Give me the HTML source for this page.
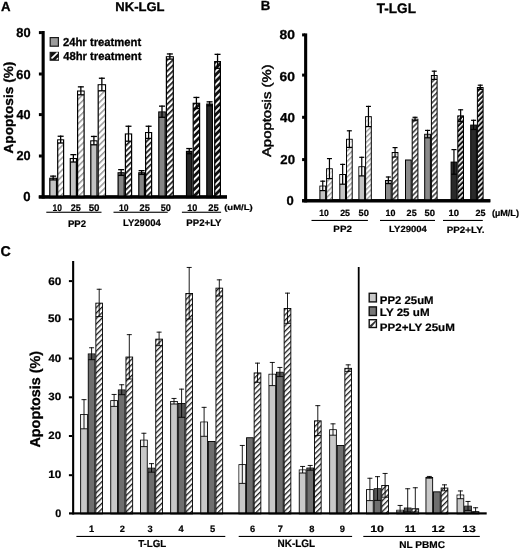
<!DOCTYPE html>
<html><head><meta charset="utf-8"><title>Apoptosis figure</title>
<style>
html,body{margin:0;padding:0;background:#fff;width:520px;height:550px;overflow:hidden;}
svg text{font-family:"Liberation Sans", sans-serif;text-rendering:geometricPrecision;}
</style></head>
<body>
<svg width="520" height="550" viewBox="0 0 520 550" style="display:block;filter:blur(0.35px) grayscale(1)">
<defs>
<pattern id="hA1" patternUnits="userSpaceOnUse" width="4.3" height="4.3" patternTransform="rotate(45)"><rect width="4.3" height="4.3" fill="#fff"/><rect width="1.5" height="4.3" fill="#9a9a9a"/></pattern>
<pattern id="hA2" patternUnits="userSpaceOnUse" width="3.9" height="3.9" patternTransform="rotate(45)"><rect width="3.9" height="3.9" fill="#fff"/><rect width="1.7" height="3.9" fill="#1a1a1a"/></pattern>
<pattern id="hA3" patternUnits="userSpaceOnUse" width="4.7" height="4.7" patternTransform="rotate(45)"><rect width="4.7" height="4.7" fill="#111"/><rect width="1.8" height="4.7" fill="#fff"/></pattern>
<pattern id="hB1" patternUnits="userSpaceOnUse" width="3.7" height="3.7" patternTransform="rotate(45)"><rect width="3.7" height="3.7" fill="#fff"/><rect width="1.4" height="3.7" fill="#9a9a9a"/></pattern>
<pattern id="hB2" patternUnits="userSpaceOnUse" width="3.7" height="3.7" patternTransform="rotate(45)"><rect width="3.7" height="3.7" fill="#fff"/><rect width="1.6" height="3.7" fill="#404040"/></pattern>
<pattern id="hB3" patternUnits="userSpaceOnUse" width="3.6" height="3.6" patternTransform="rotate(45)"><rect width="3.6" height="3.6" fill="#111"/><rect width="1.5" height="3.6" fill="#fff"/></pattern>
<pattern id="hC" patternUnits="userSpaceOnUse" width="3.85" height="3.85" patternTransform="rotate(45)"><rect width="3.85" height="3.85" fill="#fff"/><rect width="1.3" height="3.85" fill="#1a1a1a"/></pattern>
</defs><rect x="41.60" y="31.00" width="3.10" height="167.50" fill="#000"/>
<rect x="38.80" y="195.40" width="188.20" height="3.10" fill="#000"/>
<rect x="38.90" y="31.10" width="3.00" height="3.00" fill="#000"/>
<rect x="38.90" y="72.50" width="3.00" height="3.00" fill="#000"/>
<rect x="38.90" y="113.10" width="3.00" height="3.00" fill="#000"/>
<rect x="38.90" y="154.50" width="3.00" height="3.00" fill="#000"/>
<rect x="50.20" y="37.60" width="8.20" height="8.60" fill="#9c9c9c" stroke="#1a1a1a" stroke-width="1.2"/>
<rect x="50.20" y="52.40" width="8.20" height="7.80" fill="#111" stroke="#1a1a1a" stroke-width="1.2"/>
<polygon points="51.2,58.6 51.2,57.6 56.8,52.2 57.8,52.2 57.8,53.6 52.6,58.8" fill="#fff"/>
<polygon points="55.6,59.6 58.2,57.2 58.2,59.6" fill="#fff"/>
<rect x="49.80" y="178.30" width="6.70" height="19.30" fill="#c2c2c2" stroke="#000" stroke-width="1.2"/>
<rect x="50.40" y="178.90" width="5.50" height="1.00" fill="#fff" fill-opacity="1.0"/>
<line x1="49.80" y1="179.90" x2="56.50" y2="179.90" stroke="#000" stroke-width="1.3"/>
<line x1="53.15" y1="175.50" x2="53.15" y2="179.90" stroke="#000" stroke-width="1.3"/>
<line x1="50.15" y1="176.15" x2="56.15" y2="176.15" stroke="#000" stroke-width="1.3"/>
<rect x="57.70" y="139.90" width="5.90" height="57.70" fill="url(#hA1)" stroke="#000" stroke-width="1.2"/>
<rect x="58.30" y="140.50" width="4.70" height="2.50" fill="#fff" fill-opacity="1.0"/>
<line x1="57.70" y1="143.00" x2="63.60" y2="143.00" stroke="#000" stroke-width="1.3"/>
<line x1="60.65" y1="135.60" x2="60.65" y2="143.00" stroke="#000" stroke-width="1.3"/>
<line x1="57.65" y1="136.25" x2="63.65" y2="136.25" stroke="#000" stroke-width="1.3"/>
<rect x="70.30" y="158.60" width="6.10" height="39.00" fill="#c2c2c2" stroke="#000" stroke-width="1.2"/>
<rect x="70.90" y="159.20" width="4.90" height="2.80" fill="#fff" fill-opacity="1.0"/>
<line x1="70.30" y1="162.00" x2="76.40" y2="162.00" stroke="#000" stroke-width="1.3"/>
<line x1="73.35" y1="154.00" x2="73.35" y2="162.00" stroke="#000" stroke-width="1.3"/>
<line x1="70.35" y1="154.65" x2="76.35" y2="154.65" stroke="#000" stroke-width="1.3"/>
<rect x="77.60" y="91.10" width="6.50" height="106.50" fill="url(#hA1)" stroke="#000" stroke-width="1.2"/>
<rect x="78.20" y="91.70" width="5.30" height="3.10" fill="#fff" fill-opacity="1.0"/>
<line x1="77.60" y1="94.80" x2="84.10" y2="94.80" stroke="#000" stroke-width="1.3"/>
<line x1="80.85" y1="86.20" x2="80.85" y2="94.80" stroke="#000" stroke-width="1.3"/>
<line x1="77.85" y1="86.85" x2="83.85" y2="86.85" stroke="#000" stroke-width="1.3"/>
<rect x="90.80" y="140.90" width="6.20" height="56.70" fill="#c2c2c2" stroke="#000" stroke-width="1.2"/>
<rect x="91.40" y="141.50" width="5.00" height="3.30" fill="#fff" fill-opacity="1.0"/>
<line x1="90.80" y1="144.80" x2="97.00" y2="144.80" stroke="#000" stroke-width="1.3"/>
<line x1="93.90" y1="135.80" x2="93.90" y2="144.80" stroke="#000" stroke-width="1.3"/>
<line x1="90.90" y1="136.45" x2="96.90" y2="136.45" stroke="#000" stroke-width="1.3"/>
<rect x="98.20" y="84.80" width="7.30" height="112.80" fill="url(#hA1)" stroke="#000" stroke-width="1.2"/>
<rect x="98.80" y="85.40" width="6.10" height="5.40" fill="#fff" fill-opacity="1.0"/>
<line x1="98.20" y1="90.80" x2="105.50" y2="90.80" stroke="#000" stroke-width="1.3"/>
<line x1="101.85" y1="77.60" x2="101.85" y2="90.80" stroke="#000" stroke-width="1.3"/>
<line x1="98.85" y1="78.25" x2="104.85" y2="78.25" stroke="#000" stroke-width="1.3"/>
<rect x="118.10" y="172.80" width="6.10" height="24.80" fill="#858585" stroke="#000" stroke-width="1.2"/>
<rect x="118.70" y="173.40" width="4.90" height="2.00" fill="#555" fill-opacity="1.0"/>
<line x1="118.10" y1="175.40" x2="124.20" y2="175.40" stroke="#000" stroke-width="1.3"/>
<line x1="121.15" y1="169.00" x2="121.15" y2="175.40" stroke="#000" stroke-width="1.3"/>
<line x1="118.15" y1="169.65" x2="124.15" y2="169.65" stroke="#000" stroke-width="1.3"/>
<rect x="125.40" y="134.00" width="6.20" height="63.60" fill="url(#hA2)" stroke="#000" stroke-width="1.2"/>
<rect x="126.00" y="134.60" width="5.00" height="6.60" fill="#fff" fill-opacity="1.0"/>
<line x1="125.40" y1="141.20" x2="131.60" y2="141.20" stroke="#000" stroke-width="1.3"/>
<line x1="128.50" y1="125.60" x2="128.50" y2="141.20" stroke="#000" stroke-width="1.3"/>
<line x1="125.50" y1="126.25" x2="131.50" y2="126.25" stroke="#000" stroke-width="1.3"/>
<rect x="138.80" y="172.80" width="5.60" height="24.80" fill="#858585" stroke="#000" stroke-width="1.2"/>
<rect x="139.40" y="173.40" width="4.40" height="1.00" fill="#555" fill-opacity="1.0"/>
<line x1="138.80" y1="174.40" x2="144.40" y2="174.40" stroke="#000" stroke-width="1.3"/>
<line x1="141.60" y1="170.00" x2="141.60" y2="174.40" stroke="#000" stroke-width="1.3"/>
<line x1="138.60" y1="170.65" x2="144.60" y2="170.65" stroke="#000" stroke-width="1.3"/>
<rect x="145.60" y="132.60" width="6.00" height="65.00" fill="url(#hA2)" stroke="#000" stroke-width="1.2"/>
<rect x="146.20" y="133.20" width="4.80" height="5.20" fill="#fff" fill-opacity="1.0"/>
<line x1="145.60" y1="138.40" x2="151.60" y2="138.40" stroke="#000" stroke-width="1.3"/>
<line x1="148.60" y1="125.60" x2="148.60" y2="138.40" stroke="#000" stroke-width="1.3"/>
<line x1="145.60" y1="126.25" x2="151.60" y2="126.25" stroke="#000" stroke-width="1.3"/>
<rect x="158.80" y="112.00" width="6.40" height="85.60" fill="#858585" stroke="#000" stroke-width="1.2"/>
<rect x="159.40" y="112.60" width="5.20" height="4.70" fill="#555" fill-opacity="1.0"/>
<line x1="158.80" y1="117.30" x2="165.20" y2="117.30" stroke="#000" stroke-width="1.3"/>
<line x1="162.00" y1="105.50" x2="162.00" y2="117.30" stroke="#000" stroke-width="1.3"/>
<line x1="159.00" y1="106.15" x2="165.00" y2="106.15" stroke="#000" stroke-width="1.3"/>
<rect x="166.40" y="56.80" width="6.90" height="140.80" fill="url(#hA2)" stroke="#000" stroke-width="1.2"/>
<rect x="167.00" y="57.40" width="5.70" height="1.70" fill="#fff" fill-opacity="1.0"/>
<line x1="166.40" y1="59.10" x2="173.30" y2="59.10" stroke="#000" stroke-width="1.3"/>
<line x1="169.85" y1="53.30" x2="169.85" y2="59.10" stroke="#000" stroke-width="1.3"/>
<line x1="166.85" y1="53.95" x2="172.85" y2="53.95" stroke="#000" stroke-width="1.3"/>
<rect x="186.50" y="151.40" width="5.50" height="46.20" fill="#262626" stroke="#000" stroke-width="1.2"/>
<line x1="186.50" y1="153.70" x2="192.00" y2="153.70" stroke="#000" stroke-width="1.3"/>
<line x1="189.25" y1="147.90" x2="189.25" y2="153.70" stroke="#000" stroke-width="1.3"/>
<line x1="186.25" y1="148.55" x2="192.25" y2="148.55" stroke="#000" stroke-width="1.3"/>
<rect x="193.20" y="103.30" width="6.40" height="94.30" fill="url(#hA3)" stroke="#000" stroke-width="1.2"/>
<line x1="193.20" y1="108.60" x2="199.60" y2="108.60" stroke="#000" stroke-width="1.3"/>
<line x1="196.40" y1="96.80" x2="196.40" y2="108.60" stroke="#000" stroke-width="1.3"/>
<line x1="193.40" y1="97.45" x2="199.40" y2="97.45" stroke="#000" stroke-width="1.3"/>
<rect x="206.80" y="104.10" width="5.60" height="93.50" fill="#262626" stroke="#000" stroke-width="1.2"/>
<line x1="206.80" y1="105.80" x2="212.40" y2="105.80" stroke="#000" stroke-width="1.3"/>
<line x1="209.60" y1="101.20" x2="209.60" y2="105.80" stroke="#000" stroke-width="1.3"/>
<line x1="206.60" y1="101.85" x2="212.60" y2="101.85" stroke="#000" stroke-width="1.3"/>
<rect x="214.70" y="61.60" width="5.70" height="136.00" fill="url(#hA3)" stroke="#000" stroke-width="1.2"/>
<line x1="214.70" y1="68.30" x2="220.40" y2="68.30" stroke="#000" stroke-width="1.3"/>
<line x1="217.55" y1="53.70" x2="217.55" y2="68.30" stroke="#000" stroke-width="1.3"/>
<line x1="214.55" y1="54.35" x2="220.55" y2="54.35" stroke="#000" stroke-width="1.3"/>
<rect x="38.80" y="195.40" width="188.20" height="3.10" fill="#000"/>
<rect x="46.30" y="211.70" width="55.20" height="1.10" fill="#000"/>
<rect x="113.50" y="211.70" width="54.20" height="1.10" fill="#000"/>
<rect x="181.90" y="211.70" width="39.20" height="1.10" fill="#000"/>
<rect x="304.10" y="33.40" width="3.10" height="169.00" fill="#000"/>
<rect x="302.10" y="199.20" width="188.20" height="3.10" fill="#000"/>
<rect x="302.10" y="33.40" width="3.00" height="3.00" fill="#000"/>
<rect x="302.10" y="73.60" width="3.00" height="3.00" fill="#000"/>
<rect x="302.10" y="115.80" width="3.00" height="3.00" fill="#000"/>
<rect x="302.10" y="158.10" width="3.00" height="3.00" fill="#000"/>
<rect x="319.90" y="186.10" width="5.70" height="15.10" fill="#c4c4c4" stroke="#000" stroke-width="1.0"/>
<rect x="320.40" y="186.60" width="4.70" height="4.00" fill="#f6f6f6" fill-opacity="1.0"/>
<line x1="319.90" y1="190.60" x2="325.60" y2="190.60" stroke="#000" stroke-width="1.2"/>
<line x1="322.75" y1="180.60" x2="322.75" y2="190.60" stroke="#000" stroke-width="1.2"/>
<line x1="320.25" y1="181.20" x2="325.25" y2="181.20" stroke="#000" stroke-width="1.2"/>
<rect x="326.60" y="168.80" width="5.70" height="32.40" fill="url(#hB1)" stroke="#000" stroke-width="1.0"/>
<rect x="327.10" y="169.30" width="4.70" height="9.30" fill="#fff" fill-opacity="0.7"/>
<line x1="326.60" y1="178.60" x2="332.30" y2="178.60" stroke="#000" stroke-width="1.2"/>
<line x1="329.45" y1="158.00" x2="329.45" y2="178.60" stroke="#000" stroke-width="1.2"/>
<line x1="326.95" y1="158.60" x2="331.95" y2="158.60" stroke="#000" stroke-width="1.2"/>
<rect x="339.80" y="174.50" width="5.70" height="26.70" fill="#c4c4c4" stroke="#000" stroke-width="1.0"/>
<rect x="340.30" y="175.00" width="4.70" height="9.20" fill="#f6f6f6" fill-opacity="1.0"/>
<line x1="339.80" y1="184.20" x2="345.50" y2="184.20" stroke="#000" stroke-width="1.2"/>
<line x1="342.65" y1="163.80" x2="342.65" y2="184.20" stroke="#000" stroke-width="1.2"/>
<line x1="340.15" y1="164.40" x2="345.15" y2="164.40" stroke="#000" stroke-width="1.2"/>
<rect x="346.50" y="139.30" width="5.70" height="61.90" fill="url(#hB1)" stroke="#000" stroke-width="1.0"/>
<rect x="347.00" y="139.80" width="4.70" height="7.60" fill="#fff" fill-opacity="0.7"/>
<line x1="346.50" y1="147.40" x2="352.20" y2="147.40" stroke="#000" stroke-width="1.2"/>
<line x1="349.35" y1="130.20" x2="349.35" y2="147.40" stroke="#000" stroke-width="1.2"/>
<line x1="346.85" y1="130.80" x2="351.85" y2="130.80" stroke="#000" stroke-width="1.2"/>
<rect x="358.90" y="166.80" width="5.70" height="34.40" fill="#c4c4c4" stroke="#000" stroke-width="1.0"/>
<rect x="359.40" y="167.30" width="4.70" height="8.60" fill="#f6f6f6" fill-opacity="1.0"/>
<line x1="358.90" y1="175.90" x2="364.60" y2="175.90" stroke="#000" stroke-width="1.2"/>
<line x1="361.75" y1="156.70" x2="361.75" y2="175.90" stroke="#000" stroke-width="1.2"/>
<line x1="359.25" y1="157.30" x2="364.25" y2="157.30" stroke="#000" stroke-width="1.2"/>
<rect x="365.60" y="116.70" width="5.70" height="84.50" fill="url(#hB1)" stroke="#000" stroke-width="1.0"/>
<rect x="366.10" y="117.20" width="4.70" height="9.40" fill="#fff" fill-opacity="0.7"/>
<line x1="365.60" y1="126.60" x2="371.30" y2="126.60" stroke="#000" stroke-width="1.2"/>
<line x1="368.45" y1="105.80" x2="368.45" y2="126.60" stroke="#000" stroke-width="1.2"/>
<line x1="365.95" y1="106.40" x2="370.95" y2="106.40" stroke="#000" stroke-width="1.2"/>
<rect x="385.50" y="180.50" width="5.70" height="20.70" fill="#8a8a8a" stroke="#000" stroke-width="1.0"/>
<rect x="386.00" y="181.00" width="4.70" height="2.60" fill="#aaa" fill-opacity="1.0"/>
<line x1="385.50" y1="183.60" x2="391.20" y2="183.60" stroke="#000" stroke-width="1.2"/>
<line x1="388.35" y1="176.40" x2="388.35" y2="183.60" stroke="#000" stroke-width="1.2"/>
<line x1="385.85" y1="177.00" x2="390.85" y2="177.00" stroke="#000" stroke-width="1.2"/>
<rect x="392.20" y="152.50" width="5.70" height="48.70" fill="url(#hB2)" stroke="#000" stroke-width="1.0"/>
<rect x="392.70" y="153.00" width="4.70" height="4.00" fill="#fff" fill-opacity="0.7"/>
<line x1="392.20" y1="157.00" x2="397.90" y2="157.00" stroke="#000" stroke-width="1.2"/>
<line x1="395.05" y1="147.00" x2="395.05" y2="157.00" stroke="#000" stroke-width="1.2"/>
<line x1="392.55" y1="147.60" x2="397.55" y2="147.60" stroke="#000" stroke-width="1.2"/>
<rect x="405.50" y="160.00" width="5.70" height="41.20" fill="#8a8a8a" stroke="#000" stroke-width="1.0"/>
<rect x="412.20" y="119.20" width="5.70" height="82.00" fill="url(#hB2)" stroke="#000" stroke-width="1.0"/>
<rect x="412.70" y="119.70" width="4.70" height="1.00" fill="#fff" fill-opacity="0.7"/>
<line x1="412.20" y1="120.70" x2="417.90" y2="120.70" stroke="#000" stroke-width="1.2"/>
<line x1="415.05" y1="116.70" x2="415.05" y2="120.70" stroke="#000" stroke-width="1.2"/>
<line x1="412.55" y1="117.30" x2="417.55" y2="117.30" stroke="#000" stroke-width="1.2"/>
<rect x="424.70" y="134.30" width="5.70" height="66.90" fill="#8a8a8a" stroke="#000" stroke-width="1.0"/>
<rect x="425.20" y="134.80" width="4.70" height="3.00" fill="#aaa" fill-opacity="1.0"/>
<line x1="424.70" y1="137.80" x2="430.40" y2="137.80" stroke="#000" stroke-width="1.2"/>
<line x1="427.55" y1="129.80" x2="427.55" y2="137.80" stroke="#000" stroke-width="1.2"/>
<line x1="425.05" y1="130.40" x2="430.05" y2="130.40" stroke="#000" stroke-width="1.2"/>
<rect x="431.40" y="75.50" width="5.70" height="125.70" fill="url(#hB2)" stroke="#000" stroke-width="1.0"/>
<rect x="431.90" y="76.00" width="4.70" height="3.40" fill="#fff" fill-opacity="0.7"/>
<line x1="431.40" y1="79.40" x2="437.10" y2="79.40" stroke="#000" stroke-width="1.2"/>
<line x1="434.25" y1="70.60" x2="434.25" y2="79.40" stroke="#000" stroke-width="1.2"/>
<line x1="431.75" y1="71.20" x2="436.75" y2="71.20" stroke="#000" stroke-width="1.2"/>
<rect x="451.10" y="162.10" width="5.70" height="39.10" fill="#2a2a2a" stroke="#000" stroke-width="1.0"/>
<line x1="451.10" y1="174.20" x2="456.80" y2="174.20" stroke="#000" stroke-width="1.2"/>
<line x1="453.95" y1="149.00" x2="453.95" y2="174.20" stroke="#000" stroke-width="1.2"/>
<line x1="451.45" y1="149.60" x2="456.45" y2="149.60" stroke="#000" stroke-width="1.2"/>
<rect x="457.80" y="115.90" width="5.70" height="85.30" fill="url(#hB3)" stroke="#000" stroke-width="1.0"/>
<line x1="457.80" y1="121.60" x2="463.50" y2="121.60" stroke="#000" stroke-width="1.2"/>
<line x1="460.65" y1="109.20" x2="460.65" y2="121.60" stroke="#000" stroke-width="1.2"/>
<line x1="458.15" y1="109.80" x2="463.15" y2="109.80" stroke="#000" stroke-width="1.2"/>
<rect x="470.70" y="125.10" width="5.70" height="76.10" fill="#2a2a2a" stroke="#000" stroke-width="1.0"/>
<line x1="470.70" y1="129.50" x2="476.40" y2="129.50" stroke="#000" stroke-width="1.2"/>
<line x1="473.55" y1="119.70" x2="473.55" y2="129.50" stroke="#000" stroke-width="1.2"/>
<line x1="471.05" y1="120.30" x2="476.05" y2="120.30" stroke="#000" stroke-width="1.2"/>
<rect x="477.40" y="87.50" width="5.70" height="113.70" fill="url(#hB3)" stroke="#000" stroke-width="1.0"/>
<line x1="477.40" y1="89.40" x2="483.10" y2="89.40" stroke="#000" stroke-width="1.2"/>
<line x1="480.25" y1="84.60" x2="480.25" y2="89.40" stroke="#000" stroke-width="1.2"/>
<line x1="477.75" y1="85.20" x2="482.75" y2="85.20" stroke="#000" stroke-width="1.2"/>
<rect x="302.10" y="199.20" width="188.20" height="3.10" fill="#000"/>
<rect x="311.50" y="219.90" width="56.40" height="1.10" fill="#000"/>
<rect x="380.00" y="219.90" width="55.00" height="1.10" fill="#000"/>
<rect x="443.00" y="219.90" width="39.80" height="1.10" fill="#000"/>
<rect x="72.10" y="261.00" width="2.10" height="253.50" fill="#000"/>
<rect x="68.90" y="280.10" width="3.30" height="2.00" fill="#000"/>
<rect x="68.90" y="318.30" width="3.30" height="2.00" fill="#000"/>
<rect x="68.90" y="357.50" width="3.30" height="2.00" fill="#000"/>
<rect x="68.90" y="396.30" width="3.30" height="2.00" fill="#000"/>
<rect x="68.90" y="435.00" width="3.30" height="2.00" fill="#000"/>
<rect x="68.90" y="474.20" width="3.30" height="2.00" fill="#000"/>
<rect x="357.80" y="267.00" width="1.80" height="247.00" fill="#000"/>
<rect x="369.20" y="293.30" width="7.20" height="8.60" fill="#c8c8c8" stroke="#111" stroke-width="1.4"/>
<rect x="369.20" y="306.90" width="7.20" height="8.60" fill="#777" stroke="#111" stroke-width="1.4"/>
<rect x="369.20" y="319.70" width="7.20" height="7.80" fill="#fff" stroke="#111" stroke-width="1.4"/>
<polygon points="370,326.6 370,325.2 375.4,320.4 376.3,320.4 376.3,321.6 371.2,327.4" fill="#333"/>
<rect x="80.65" y="414.45" width="6.70" height="99.40" fill="#c8c8c8" stroke="#000" stroke-width="0.9"/>
<rect x="81.10" y="414.90" width="5.80" height="13.90" fill="#f4f4f4" fill-opacity="1.0"/>
<line x1="80.65" y1="428.80" x2="87.35" y2="428.80" stroke="#000" stroke-width="0.9"/>
<line x1="84.00" y1="399.20" x2="84.00" y2="428.80" stroke="#000" stroke-width="0.9"/>
<line x1="81.50" y1="399.65" x2="86.50" y2="399.65" stroke="#000" stroke-width="0.9"/>
<rect x="88.25" y="353.95" width="6.70" height="159.90" fill="#6e6e6e" stroke="#000" stroke-width="0.9"/>
<rect x="88.70" y="354.40" width="5.80" height="5.30" fill="#555" fill-opacity="1.0"/>
<line x1="88.25" y1="359.70" x2="94.95" y2="359.70" stroke="#000" stroke-width="0.9"/>
<line x1="91.60" y1="347.30" x2="91.60" y2="359.70" stroke="#000" stroke-width="0.9"/>
<line x1="89.10" y1="347.75" x2="94.10" y2="347.75" stroke="#000" stroke-width="0.9"/>
<rect x="95.85" y="303.15" width="6.70" height="210.70" fill="url(#hC)" stroke="#000" stroke-width="0.9"/>
<line x1="95.85" y1="316.60" x2="102.55" y2="316.60" stroke="#000" stroke-width="0.9"/>
<line x1="99.20" y1="288.80" x2="99.20" y2="316.60" stroke="#000" stroke-width="0.9"/>
<line x1="96.70" y1="289.25" x2="101.70" y2="289.25" stroke="#000" stroke-width="0.9"/>
<rect x="110.75" y="400.65" width="6.70" height="113.20" fill="#c8c8c8" stroke="#000" stroke-width="0.9"/>
<rect x="111.20" y="401.10" width="5.80" height="5.30" fill="#f4f4f4" fill-opacity="1.0"/>
<line x1="110.75" y1="406.40" x2="117.45" y2="406.40" stroke="#000" stroke-width="0.9"/>
<line x1="114.10" y1="394.00" x2="114.10" y2="406.40" stroke="#000" stroke-width="0.9"/>
<line x1="111.60" y1="394.45" x2="116.60" y2="394.45" stroke="#000" stroke-width="0.9"/>
<rect x="118.35" y="389.95" width="6.70" height="123.90" fill="#6e6e6e" stroke="#000" stroke-width="0.9"/>
<rect x="118.80" y="390.40" width="5.80" height="4.30" fill="#555" fill-opacity="1.0"/>
<line x1="118.35" y1="394.70" x2="125.05" y2="394.70" stroke="#000" stroke-width="0.9"/>
<line x1="121.70" y1="384.30" x2="121.70" y2="394.70" stroke="#000" stroke-width="0.9"/>
<line x1="119.20" y1="384.75" x2="124.20" y2="384.75" stroke="#000" stroke-width="0.9"/>
<rect x="125.95" y="357.05" width="6.70" height="156.80" fill="url(#hC)" stroke="#000" stroke-width="0.9"/>
<line x1="125.95" y1="379.00" x2="132.65" y2="379.00" stroke="#000" stroke-width="0.9"/>
<line x1="129.30" y1="334.20" x2="129.30" y2="379.00" stroke="#000" stroke-width="0.9"/>
<line x1="126.80" y1="334.65" x2="131.80" y2="334.65" stroke="#000" stroke-width="0.9"/>
<rect x="140.55" y="440.15" width="6.70" height="73.70" fill="#c8c8c8" stroke="#000" stroke-width="0.9"/>
<rect x="141.00" y="440.60" width="5.80" height="6.00" fill="#f4f4f4" fill-opacity="1.0"/>
<line x1="140.55" y1="446.60" x2="147.25" y2="446.60" stroke="#000" stroke-width="0.9"/>
<line x1="143.90" y1="432.80" x2="143.90" y2="446.60" stroke="#000" stroke-width="0.9"/>
<line x1="141.40" y1="433.25" x2="146.40" y2="433.25" stroke="#000" stroke-width="0.9"/>
<rect x="148.15" y="468.15" width="6.70" height="45.70" fill="#6e6e6e" stroke="#000" stroke-width="0.9"/>
<rect x="148.60" y="468.60" width="5.80" height="3.60" fill="#555" fill-opacity="1.0"/>
<line x1="148.15" y1="472.20" x2="154.85" y2="472.20" stroke="#000" stroke-width="0.9"/>
<line x1="151.50" y1="463.20" x2="151.50" y2="472.20" stroke="#000" stroke-width="0.9"/>
<line x1="149.00" y1="463.65" x2="154.00" y2="463.65" stroke="#000" stroke-width="0.9"/>
<rect x="155.75" y="339.15" width="6.70" height="174.70" fill="url(#hC)" stroke="#000" stroke-width="0.9"/>
<line x1="155.75" y1="345.70" x2="162.45" y2="345.70" stroke="#000" stroke-width="0.9"/>
<line x1="159.10" y1="331.70" x2="159.10" y2="345.70" stroke="#000" stroke-width="0.9"/>
<line x1="156.60" y1="332.15" x2="161.60" y2="332.15" stroke="#000" stroke-width="0.9"/>
<rect x="170.65" y="401.45" width="6.70" height="112.40" fill="#c8c8c8" stroke="#000" stroke-width="0.9"/>
<rect x="171.10" y="401.90" width="5.80" height="2.10" fill="#f4f4f4" fill-opacity="1.0"/>
<line x1="170.65" y1="404.00" x2="177.35" y2="404.00" stroke="#000" stroke-width="0.9"/>
<line x1="174.00" y1="398.00" x2="174.00" y2="404.00" stroke="#000" stroke-width="0.9"/>
<line x1="171.50" y1="398.45" x2="176.50" y2="398.45" stroke="#000" stroke-width="0.9"/>
<rect x="178.25" y="403.45" width="6.70" height="110.40" fill="#6e6e6e" stroke="#000" stroke-width="0.9"/>
<rect x="178.70" y="403.90" width="5.80" height="13.40" fill="#555" fill-opacity="1.0"/>
<line x1="178.25" y1="417.30" x2="184.95" y2="417.30" stroke="#000" stroke-width="0.9"/>
<line x1="181.60" y1="388.70" x2="181.60" y2="417.30" stroke="#000" stroke-width="0.9"/>
<line x1="179.10" y1="389.15" x2="184.10" y2="389.15" stroke="#000" stroke-width="0.9"/>
<rect x="185.85" y="293.45" width="6.70" height="220.40" fill="url(#hC)" stroke="#000" stroke-width="0.9"/>
<line x1="185.85" y1="319.00" x2="192.55" y2="319.00" stroke="#000" stroke-width="0.9"/>
<line x1="189.20" y1="267.00" x2="189.20" y2="319.00" stroke="#000" stroke-width="0.9"/>
<line x1="186.70" y1="267.45" x2="191.70" y2="267.45" stroke="#000" stroke-width="0.9"/>
<rect x="200.75" y="422.05" width="6.70" height="91.80" fill="#c8c8c8" stroke="#000" stroke-width="0.9"/>
<rect x="201.20" y="422.50" width="5.80" height="13.80" fill="#f4f4f4" fill-opacity="1.0"/>
<line x1="200.75" y1="436.30" x2="207.45" y2="436.30" stroke="#000" stroke-width="0.9"/>
<line x1="204.10" y1="406.90" x2="204.10" y2="436.30" stroke="#000" stroke-width="0.9"/>
<line x1="201.60" y1="407.35" x2="206.60" y2="407.35" stroke="#000" stroke-width="0.9"/>
<rect x="208.35" y="441.45" width="6.70" height="72.40" fill="#6e6e6e" stroke="#000" stroke-width="0.9"/>
<rect x="215.95" y="288.15" width="6.70" height="225.70" fill="url(#hC)" stroke="#000" stroke-width="0.9"/>
<line x1="215.95" y1="296.00" x2="222.65" y2="296.00" stroke="#000" stroke-width="0.9"/>
<line x1="219.30" y1="279.40" x2="219.30" y2="296.00" stroke="#000" stroke-width="0.9"/>
<line x1="216.80" y1="279.85" x2="221.80" y2="279.85" stroke="#000" stroke-width="0.9"/>
<rect x="238.95" y="464.65" width="6.70" height="49.20" fill="#c8c8c8" stroke="#000" stroke-width="0.9"/>
<rect x="239.40" y="465.10" width="5.80" height="18.30" fill="#f4f4f4" fill-opacity="1.0"/>
<line x1="238.95" y1="483.40" x2="245.65" y2="483.40" stroke="#000" stroke-width="0.9"/>
<line x1="242.30" y1="445.00" x2="242.30" y2="483.40" stroke="#000" stroke-width="0.9"/>
<line x1="239.80" y1="445.45" x2="244.80" y2="445.45" stroke="#000" stroke-width="0.9"/>
<rect x="246.55" y="437.75" width="6.70" height="76.10" fill="#6e6e6e" stroke="#000" stroke-width="0.9"/>
<rect x="254.15" y="372.95" width="6.70" height="140.90" fill="url(#hC)" stroke="#000" stroke-width="0.9"/>
<line x1="254.15" y1="382.30" x2="260.85" y2="382.30" stroke="#000" stroke-width="0.9"/>
<line x1="257.50" y1="362.70" x2="257.50" y2="382.30" stroke="#000" stroke-width="0.9"/>
<line x1="255.00" y1="363.15" x2="260.00" y2="363.15" stroke="#000" stroke-width="0.9"/>
<rect x="268.95" y="374.25" width="6.70" height="139.60" fill="#c8c8c8" stroke="#000" stroke-width="0.9"/>
<rect x="269.40" y="374.70" width="5.80" height="10.90" fill="#f4f4f4" fill-opacity="1.0"/>
<line x1="268.95" y1="385.60" x2="275.65" y2="385.60" stroke="#000" stroke-width="0.9"/>
<line x1="272.30" y1="362.00" x2="272.30" y2="385.60" stroke="#000" stroke-width="0.9"/>
<line x1="269.80" y1="362.45" x2="274.80" y2="362.45" stroke="#000" stroke-width="0.9"/>
<rect x="276.55" y="372.25" width="6.70" height="141.60" fill="#6e6e6e" stroke="#000" stroke-width="0.9"/>
<rect x="277.00" y="372.70" width="5.80" height="3.90" fill="#555" fill-opacity="1.0"/>
<line x1="276.55" y1="376.60" x2="283.25" y2="376.60" stroke="#000" stroke-width="0.9"/>
<line x1="279.90" y1="367.00" x2="279.90" y2="376.60" stroke="#000" stroke-width="0.9"/>
<line x1="277.40" y1="367.45" x2="282.40" y2="367.45" stroke="#000" stroke-width="0.9"/>
<rect x="284.15" y="308.45" width="6.70" height="205.40" fill="url(#hC)" stroke="#000" stroke-width="0.9"/>
<line x1="284.15" y1="323.30" x2="290.85" y2="323.30" stroke="#000" stroke-width="0.9"/>
<line x1="287.50" y1="292.70" x2="287.50" y2="323.30" stroke="#000" stroke-width="0.9"/>
<line x1="285.00" y1="293.15" x2="290.00" y2="293.15" stroke="#000" stroke-width="0.9"/>
<rect x="299.25" y="469.95" width="6.70" height="43.90" fill="#c8c8c8" stroke="#000" stroke-width="0.9"/>
<rect x="299.70" y="470.40" width="5.80" height="2.60" fill="#f4f4f4" fill-opacity="1.0"/>
<line x1="299.25" y1="473.00" x2="305.95" y2="473.00" stroke="#000" stroke-width="0.9"/>
<line x1="302.60" y1="466.00" x2="302.60" y2="473.00" stroke="#000" stroke-width="0.9"/>
<line x1="300.10" y1="466.45" x2="305.10" y2="466.45" stroke="#000" stroke-width="0.9"/>
<rect x="306.85" y="468.05" width="6.70" height="45.80" fill="#6e6e6e" stroke="#000" stroke-width="0.9"/>
<rect x="307.30" y="468.50" width="5.80" height="1.70" fill="#555" fill-opacity="1.0"/>
<line x1="306.85" y1="470.20" x2="313.55" y2="470.20" stroke="#000" stroke-width="0.9"/>
<line x1="310.20" y1="465.00" x2="310.20" y2="470.20" stroke="#000" stroke-width="0.9"/>
<line x1="307.70" y1="465.45" x2="312.70" y2="465.45" stroke="#000" stroke-width="0.9"/>
<rect x="314.45" y="420.85" width="6.70" height="93.00" fill="url(#hC)" stroke="#000" stroke-width="0.9"/>
<line x1="314.45" y1="435.60" x2="321.15" y2="435.60" stroke="#000" stroke-width="0.9"/>
<line x1="317.80" y1="405.20" x2="317.80" y2="435.60" stroke="#000" stroke-width="0.9"/>
<line x1="315.30" y1="405.65" x2="320.30" y2="405.65" stroke="#000" stroke-width="0.9"/>
<rect x="329.65" y="429.75" width="6.70" height="84.10" fill="#c8c8c8" stroke="#000" stroke-width="0.9"/>
<rect x="330.10" y="430.20" width="5.80" height="5.00" fill="#f4f4f4" fill-opacity="1.0"/>
<line x1="329.65" y1="435.20" x2="336.35" y2="435.20" stroke="#000" stroke-width="0.9"/>
<line x1="333.00" y1="423.40" x2="333.00" y2="435.20" stroke="#000" stroke-width="0.9"/>
<line x1="330.50" y1="423.85" x2="335.50" y2="423.85" stroke="#000" stroke-width="0.9"/>
<rect x="337.25" y="445.45" width="6.70" height="68.40" fill="#6e6e6e" stroke="#000" stroke-width="0.9"/>
<rect x="344.85" y="368.35" width="6.70" height="145.50" fill="url(#hC)" stroke="#000" stroke-width="0.9"/>
<line x1="344.85" y1="371.40" x2="351.55" y2="371.40" stroke="#000" stroke-width="0.9"/>
<line x1="348.20" y1="364.40" x2="348.20" y2="371.40" stroke="#000" stroke-width="0.9"/>
<line x1="345.70" y1="364.85" x2="350.70" y2="364.85" stroke="#000" stroke-width="0.9"/>
<rect x="366.55" y="489.65" width="6.70" height="24.20" fill="#c8c8c8" stroke="#000" stroke-width="0.9"/>
<rect x="367.00" y="490.10" width="5.80" height="10.50" fill="#f4f4f4" fill-opacity="1.0"/>
<line x1="366.55" y1="500.60" x2="373.25" y2="500.60" stroke="#000" stroke-width="0.9"/>
<line x1="369.90" y1="477.80" x2="369.90" y2="500.60" stroke="#000" stroke-width="0.9"/>
<line x1="367.40" y1="478.25" x2="372.40" y2="478.25" stroke="#000" stroke-width="0.9"/>
<rect x="374.15" y="488.75" width="6.70" height="25.10" fill="#6e6e6e" stroke="#000" stroke-width="0.9"/>
<rect x="374.60" y="489.20" width="5.80" height="11.20" fill="#555" fill-opacity="1.0"/>
<line x1="374.15" y1="500.40" x2="380.85" y2="500.40" stroke="#000" stroke-width="0.9"/>
<line x1="377.50" y1="476.20" x2="377.50" y2="500.40" stroke="#000" stroke-width="0.9"/>
<line x1="375.00" y1="476.65" x2="380.00" y2="476.65" stroke="#000" stroke-width="0.9"/>
<rect x="381.75" y="485.55" width="6.70" height="28.30" fill="url(#hC)" stroke="#000" stroke-width="0.9"/>
<line x1="381.75" y1="497.20" x2="388.45" y2="497.20" stroke="#000" stroke-width="0.9"/>
<line x1="385.10" y1="473.00" x2="385.10" y2="497.20" stroke="#000" stroke-width="0.9"/>
<line x1="382.60" y1="473.45" x2="387.60" y2="473.45" stroke="#000" stroke-width="0.9"/>
<rect x="396.75" y="510.25" width="6.70" height="3.60" fill="#c8c8c8" stroke="#000" stroke-width="0.9"/>
<rect x="397.20" y="510.70" width="5.80" height="1.20" fill="#f4f4f4" fill-opacity="1.0"/>
<line x1="396.75" y1="511.90" x2="403.45" y2="511.90" stroke="#000" stroke-width="0.9"/>
<line x1="400.10" y1="505.00" x2="400.10" y2="511.90" stroke="#000" stroke-width="0.9"/>
<line x1="397.60" y1="505.45" x2="402.60" y2="505.45" stroke="#000" stroke-width="0.9"/>
<rect x="404.35" y="508.05" width="6.70" height="5.80" fill="#6e6e6e" stroke="#000" stroke-width="0.9"/>
<rect x="404.80" y="508.50" width="5.80" height="3.40" fill="#555" fill-opacity="1.0"/>
<line x1="404.35" y1="511.90" x2="411.05" y2="511.90" stroke="#000" stroke-width="0.9"/>
<line x1="407.70" y1="488.30" x2="407.70" y2="511.90" stroke="#000" stroke-width="0.9"/>
<line x1="405.20" y1="488.75" x2="410.20" y2="488.75" stroke="#000" stroke-width="0.9"/>
<rect x="411.95" y="508.75" width="6.70" height="5.10" fill="url(#hC)" stroke="#000" stroke-width="0.9"/>
<line x1="411.95" y1="511.90" x2="418.65" y2="511.90" stroke="#000" stroke-width="0.9"/>
<line x1="415.30" y1="487.30" x2="415.30" y2="511.90" stroke="#000" stroke-width="0.9"/>
<line x1="412.80" y1="487.75" x2="417.80" y2="487.75" stroke="#000" stroke-width="0.9"/>
<rect x="425.95" y="477.55" width="6.70" height="36.30" fill="#c8c8c8" stroke="#000" stroke-width="0.9"/>
<rect x="426.40" y="478.00" width="5.80" height="0.20" fill="#f4f4f4" fill-opacity="1.0"/>
<line x1="425.95" y1="478.20" x2="432.65" y2="478.20" stroke="#000" stroke-width="0.9"/>
<line x1="429.30" y1="476.00" x2="429.30" y2="478.20" stroke="#000" stroke-width="0.9"/>
<line x1="426.80" y1="476.45" x2="431.80" y2="476.45" stroke="#000" stroke-width="0.9"/>
<rect x="433.55" y="491.85" width="6.70" height="22.00" fill="#6e6e6e" stroke="#000" stroke-width="0.9"/>
<rect x="441.15" y="488.05" width="6.70" height="25.80" fill="url(#hC)" stroke="#000" stroke-width="0.9"/>
<line x1="441.15" y1="490.80" x2="447.85" y2="490.80" stroke="#000" stroke-width="0.9"/>
<line x1="444.50" y1="484.40" x2="444.50" y2="490.80" stroke="#000" stroke-width="0.9"/>
<line x1="442.00" y1="484.85" x2="447.00" y2="484.85" stroke="#000" stroke-width="0.9"/>
<rect x="457.05" y="495.05" width="6.70" height="18.80" fill="#c8c8c8" stroke="#000" stroke-width="0.9"/>
<rect x="457.50" y="495.50" width="5.80" height="3.20" fill="#f4f4f4" fill-opacity="1.0"/>
<line x1="457.05" y1="498.70" x2="463.75" y2="498.70" stroke="#000" stroke-width="0.9"/>
<line x1="460.40" y1="490.50" x2="460.40" y2="498.70" stroke="#000" stroke-width="0.9"/>
<line x1="457.90" y1="490.95" x2="462.90" y2="490.95" stroke="#000" stroke-width="0.9"/>
<rect x="464.65" y="506.15" width="6.70" height="7.70" fill="#6e6e6e" stroke="#000" stroke-width="0.9"/>
<rect x="465.10" y="506.60" width="5.80" height="3.80" fill="#555" fill-opacity="1.0"/>
<line x1="464.65" y1="510.40" x2="471.35" y2="510.40" stroke="#000" stroke-width="0.9"/>
<line x1="468.00" y1="501.00" x2="468.00" y2="510.40" stroke="#000" stroke-width="0.9"/>
<line x1="465.50" y1="501.45" x2="470.50" y2="501.45" stroke="#000" stroke-width="0.9"/>
<rect x="472.25" y="511.85" width="6.70" height="2.00" fill="url(#hC)" stroke="#000" stroke-width="0.9"/>
<line x1="472.25" y1="511.90" x2="478.95" y2="511.90" stroke="#000" stroke-width="0.9"/>
<line x1="475.60" y1="507.30" x2="475.60" y2="511.90" stroke="#000" stroke-width="0.9"/>
<line x1="473.10" y1="507.75" x2="478.10" y2="507.75" stroke="#000" stroke-width="0.9"/>
<rect x="69.00" y="512.30" width="417.70" height="2.20" fill="#000"/>
<rect x="76.40" y="535.90" width="148.90" height="1.10" fill="#000"/>
<rect x="238.70" y="535.90" width="113.40" height="1.10" fill="#000"/>
<rect x="363.30" y="535.90" width="116.50" height="1.10" fill="#000"/>
<text x="1.06" y="10.51" font-size="13.24" font-weight="bold" stroke="#000" stroke-width="0.3">A</text>
<text x="115.29" y="11.24" font-size="12.61" font-weight="bold" textLength="49.32" lengthAdjust="spacingAndGlyphs" stroke="#000" stroke-width="0.3">NK-LGL</text>
<text x="16.36" y="37.07" font-size="13.00" font-weight="bold" textLength="14.30" lengthAdjust="spacingAndGlyphs" stroke="#000" stroke-width="0.3">80</text>
<text x="16.30" y="78.87" font-size="13.00" font-weight="bold" textLength="14.28" lengthAdjust="spacingAndGlyphs" stroke="#000" stroke-width="0.3">60</text>
<text x="16.52" y="118.59" font-size="13.00" font-weight="bold" textLength="14.08" lengthAdjust="spacingAndGlyphs" stroke="#000" stroke-width="0.3">40</text>
<text x="16.43" y="159.88" font-size="13.00" font-weight="bold" textLength="14.14" lengthAdjust="spacingAndGlyphs" stroke="#000" stroke-width="0.3">20</text>
<text x="23.33" y="201.28" font-size="13.11" font-weight="bold" stroke="#000" stroke-width="0.3">0</text>
<text transform="translate(12.84,107.60) rotate(-90)" x="0" y="0" font-size="13.11" font-weight="bold" text-anchor="middle" textLength="92.05" lengthAdjust="spacingAndGlyphs" stroke="#000" stroke-width="0.3">Apoptosis (%)</text>
<text x="62.98" y="45.82" font-size="11.63" font-weight="bold" textLength="78.22" lengthAdjust="spacingAndGlyphs" stroke="#000" stroke-width="0.3">24hr treatment</text>
<text x="63.13" y="60.12" font-size="11.60" font-weight="bold" textLength="78.29" lengthAdjust="spacingAndGlyphs" stroke="#000" stroke-width="0.3">48hr treatment</text>
<text x="52.48" y="211.10" font-size="9.56" font-weight="bold" textLength="9.42" lengthAdjust="spacingAndGlyphs" stroke="#000" stroke-width="0.2">10</text>
<text x="70.66" y="211.10" font-size="9.56" font-weight="bold" textLength="10.11" lengthAdjust="spacingAndGlyphs" stroke="#000" stroke-width="0.2">25</text>
<text x="88.68" y="211.10" font-size="9.56" font-weight="bold" textLength="10.84" lengthAdjust="spacingAndGlyphs" stroke="#000" stroke-width="0.2">50</text>
<text x="118.97" y="211.10" font-size="9.56" font-weight="bold" textLength="9.60" lengthAdjust="spacingAndGlyphs" stroke="#000" stroke-width="0.2">10</text>
<text x="139.57" y="211.10" font-size="9.56" font-weight="bold" textLength="10.34" lengthAdjust="spacingAndGlyphs" stroke="#000" stroke-width="0.2">25</text>
<text x="160.78" y="211.10" font-size="9.56" font-weight="bold" textLength="10.20" lengthAdjust="spacingAndGlyphs" stroke="#000" stroke-width="0.2">50</text>
<text x="187.14" y="211.10" font-size="9.56" font-weight="bold" textLength="10.17" lengthAdjust="spacingAndGlyphs" stroke="#000" stroke-width="0.2">10</text>
<text x="208.34" y="211.10" font-size="9.56" font-weight="bold" textLength="10.56" lengthAdjust="spacingAndGlyphs" stroke="#000" stroke-width="0.2">25</text>
<text x="224.18" y="209.68" font-size="8.00" font-weight="bold" textLength="28.54" lengthAdjust="spacingAndGlyphs" stroke="#000" stroke-width="0.2">(uM/L)</text>
<text x="67.93" y="226.69" font-size="9.60" font-weight="bold" textLength="18.09" lengthAdjust="spacingAndGlyphs" stroke="#000" stroke-width="0.2">PP2</text>
<text x="123.10" y="226.28" font-size="9.60" font-weight="bold" textLength="37.62" lengthAdjust="spacingAndGlyphs" stroke="#000" stroke-width="0.2">LY29004</text>
<text x="186.34" y="226.28" font-size="9.60" font-weight="bold" textLength="35.22" lengthAdjust="spacingAndGlyphs" stroke="#000" stroke-width="0.2">PP2+LY</text>
<text x="260.63" y="10.46" font-size="13.23" font-weight="bold" stroke="#000" stroke-width="0.3">B</text>
<text x="376.80" y="13.40" font-size="13.80" font-weight="bold" textLength="39.15" lengthAdjust="spacingAndGlyphs" stroke="#000" stroke-width="0.3">T-LGL</text>
<text x="279.54" y="38.62" font-size="13.00" font-weight="bold" textLength="15.38" lengthAdjust="spacingAndGlyphs" stroke="#000" stroke-width="0.3">80</text>
<text x="279.62" y="80.66" font-size="13.00" font-weight="bold" textLength="15.43" lengthAdjust="spacingAndGlyphs" stroke="#000" stroke-width="0.3">60</text>
<text x="280.14" y="121.95" font-size="13.00" font-weight="bold" textLength="14.89" lengthAdjust="spacingAndGlyphs" stroke="#000" stroke-width="0.3">40</text>
<text x="280.38" y="163.89" font-size="13.00" font-weight="bold" textLength="14.65" lengthAdjust="spacingAndGlyphs" stroke="#000" stroke-width="0.3">20</text>
<text x="286.42" y="204.82" font-size="13.00" font-weight="bold" stroke="#000" stroke-width="0.3">0</text>
<text transform="translate(270.67,110.71) rotate(-90)" x="0" y="0" font-size="12.50" font-weight="normal" text-anchor="middle" textLength="92.72" lengthAdjust="spacingAndGlyphs" stroke="#000" stroke-width="0.45">Apoptosis (%)</text>
<text x="319.22" y="216.38" font-size="9.00" font-weight="bold" textLength="9.53" lengthAdjust="spacingAndGlyphs" stroke="#000" stroke-width="0.2">10</text>
<text x="340.14" y="216.38" font-size="9.00" font-weight="bold" textLength="9.95" lengthAdjust="spacingAndGlyphs" stroke="#000" stroke-width="0.2">25</text>
<text x="358.61" y="216.38" font-size="9.00" font-weight="bold" textLength="10.32" lengthAdjust="spacingAndGlyphs" stroke="#000" stroke-width="0.2">50</text>
<text x="385.60" y="216.38" font-size="9.00" font-weight="bold" textLength="9.90" lengthAdjust="spacingAndGlyphs" stroke="#000" stroke-width="0.2">10</text>
<text x="406.63" y="216.38" font-size="9.00" font-weight="bold" textLength="10.05" lengthAdjust="spacingAndGlyphs" stroke="#000" stroke-width="0.2">25</text>
<text x="424.59" y="216.38" font-size="9.00" font-weight="bold" textLength="10.52" lengthAdjust="spacingAndGlyphs" stroke="#000" stroke-width="0.2">50</text>
<text x="448.61" y="216.38" font-size="9.00" font-weight="bold" textLength="10.49" lengthAdjust="spacingAndGlyphs" stroke="#000" stroke-width="0.2">10</text>
<text x="475.46" y="216.38" font-size="9.00" font-weight="bold" textLength="10.10" lengthAdjust="spacingAndGlyphs" stroke="#000" stroke-width="0.2">25</text>
<text x="491.90" y="216.27" font-size="8.80" font-weight="bold" textLength="27.11" lengthAdjust="spacingAndGlyphs" stroke="#000" stroke-width="0.2">(&#181;M/L)</text>
<text x="333.35" y="231.99" font-size="9.04" font-weight="bold" textLength="18.58" lengthAdjust="spacingAndGlyphs" stroke="#000" stroke-width="0.2">PP2</text>
<text x="389.14" y="232.02" font-size="8.85" font-weight="bold" textLength="37.71" lengthAdjust="spacingAndGlyphs" stroke="#000" stroke-width="0.2">LY29004</text>
<text x="446.66" y="232.64" font-size="9.20" font-weight="bold" textLength="37.74" lengthAdjust="spacingAndGlyphs" stroke="#000" stroke-width="0.2">PP2+LY.</text>
<text x="0.42" y="255.91" font-size="14.19" font-weight="bold" stroke="#000" stroke-width="0.3">C</text>
<text x="48.16" y="284.66" font-size="10.83" font-weight="bold" textLength="13.14" lengthAdjust="spacingAndGlyphs" stroke="#000" stroke-width="0.2">60</text>
<text x="48.09" y="321.79" font-size="10.84" font-weight="bold" textLength="13.09" lengthAdjust="spacingAndGlyphs" stroke="#000" stroke-width="0.2">50</text>
<text x="48.40" y="361.99" font-size="10.81" font-weight="bold" textLength="12.70" lengthAdjust="spacingAndGlyphs" stroke="#000" stroke-width="0.2">40</text>
<text x="48.24" y="400.49" font-size="10.46" font-weight="bold" textLength="12.94" lengthAdjust="spacingAndGlyphs" stroke="#000" stroke-width="0.2">30</text>
<text x="48.33" y="439.37" font-size="10.79" font-weight="bold" textLength="12.88" lengthAdjust="spacingAndGlyphs" stroke="#000" stroke-width="0.2">20</text>
<text x="48.18" y="478.39" font-size="10.83" font-weight="bold" textLength="13.14" lengthAdjust="spacingAndGlyphs" stroke="#000" stroke-width="0.2">10</text>
<text x="55.26" y="517.18" font-size="10.84" font-weight="bold" stroke="#000" stroke-width="0.2">0</text>
<text transform="translate(39.94,399.27) rotate(-90)" x="0" y="0" font-size="14.33" font-weight="bold" text-anchor="middle" textLength="96.56" lengthAdjust="spacingAndGlyphs" stroke="#000" stroke-width="0.3">Apoptosis (%)</text>
<text x="379.87" y="303.51" font-size="11.00" font-weight="bold" textLength="53.69" lengthAdjust="spacingAndGlyphs" stroke="#000" stroke-width="0.2">PP2 25uM</text>
<text x="379.86" y="316.37" font-size="10.82" font-weight="bold" textLength="49.72" lengthAdjust="spacingAndGlyphs" stroke="#000" stroke-width="0.2">LY 25 uM</text>
<text x="379.89" y="331.22" font-size="10.70" font-weight="bold" textLength="74.92" lengthAdjust="spacingAndGlyphs" stroke="#000" stroke-width="0.2">PP2+LY 25uM</text>
<text x="88.98" y="531.88" font-size="9.30" font-weight="bold" stroke="#000" stroke-width="0.2">1</text>
<text x="119.66" y="531.88" font-size="9.30" font-weight="bold" stroke="#000" stroke-width="0.2">2</text>
<text x="147.53" y="531.88" font-size="9.30" font-weight="bold" stroke="#000" stroke-width="0.2">3</text>
<text x="178.44" y="531.88" font-size="9.30" font-weight="bold" stroke="#000" stroke-width="0.2">4</text>
<text x="210.03" y="531.88" font-size="9.30" font-weight="bold" stroke="#000" stroke-width="0.2">5</text>
<text x="250.05" y="531.88" font-size="9.30" font-weight="bold" stroke="#000" stroke-width="0.2">6</text>
<text x="277.86" y="531.88" font-size="9.30" font-weight="bold" stroke="#000" stroke-width="0.2">7</text>
<text x="309.28" y="531.88" font-size="9.30" font-weight="bold" stroke="#000" stroke-width="0.2">8</text>
<text x="339.82" y="531.88" font-size="9.30" font-weight="bold" stroke="#000" stroke-width="0.2">9</text>
<text x="370.24" y="531.88" font-size="9.30" font-weight="bold" textLength="13.75" lengthAdjust="spacingAndGlyphs" stroke="#000" stroke-width="0.2">10</text>
<text x="404.84" y="531.88" font-size="9.30" font-weight="bold" textLength="11.18" lengthAdjust="spacingAndGlyphs" stroke="#000" stroke-width="0.2">11</text>
<text x="431.59" y="531.88" font-size="9.30" font-weight="bold" textLength="13.28" lengthAdjust="spacingAndGlyphs" stroke="#000" stroke-width="0.2">12</text>
<text x="462.22" y="531.88" font-size="9.30" font-weight="bold" textLength="13.69" lengthAdjust="spacingAndGlyphs" stroke="#000" stroke-width="0.2">13</text>
<text x="138.14" y="547.39" font-size="10.19" font-weight="bold" textLength="28.19" lengthAdjust="spacingAndGlyphs" stroke="#000" stroke-width="0.2">T-LGL</text>
<text x="277.57" y="547.48" font-size="10.67" font-weight="bold" textLength="37.62" lengthAdjust="spacingAndGlyphs" stroke="#000" stroke-width="0.2">NK-LGL</text>
<text x="399.22" y="548.35" font-size="9.80" font-weight="bold" textLength="45.73" lengthAdjust="spacingAndGlyphs" stroke="#000" stroke-width="0.2">NL PBMC</text></svg>
</body></html>
